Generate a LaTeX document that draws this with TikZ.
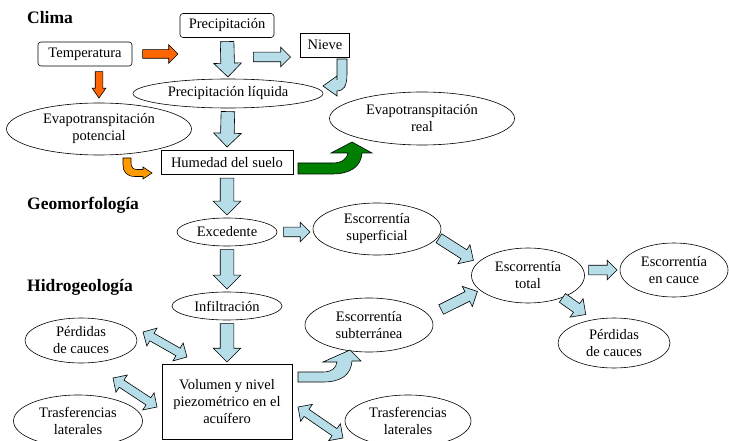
\documentclass[tikz,border=0pt]{standalone}
\usepackage{fontspec}
\setmainfont{Liberation Serif}
\usetikzlibrary{shapes.geometric,shapes.arrows,calc}

\definecolor{azulc}{RGB}{183,222,232}
\definecolor{naranja}{RGB}{255,102,0}
\definecolor{ambar}{RGB}{255,153,0}
\definecolor{verde}{RGB}{0,128,0}

\tikzset{
  caja/.style={draw, line width=0.6pt, inner sep=0pt, align=center,
    font=\fontsize{14.5}{17}\selectfont},
  elipse/.style={caja, ellipse},
  titulo/.style={anchor=base west, inner sep=0pt,
    font=\fontsize{17.5}{20}\selectfont\bfseries},
  bloque/.style={single arrow, draw, line width=0.6pt, inner xsep=0pt,
    minimum width=0pt, single arrow tip angle=90},
  azulV/.style={bloque, fill=azulc, inner ysep=6.5pt, single arrow head extend=7pt},
  azulH/.style={bloque, fill=azulc, inner ysep=4.5pt, single arrow head extend=5pt},
  azulD/.style={bloque, fill=azulc, inner ysep=5pt, single arrow head extend=6pt},
  naranjaH/.style={bloque, fill=naranja, inner ysep=4pt, single arrow head extend=5pt},
  naranjaV/.style={bloque, fill=naranja, inner ysep=3.5pt, single arrow head extend=3pt,
    single arrow tip angle=70},
  doble/.style={double arrow, draw, line width=0.6pt, fill=azulc, inner xsep=0pt,
    inner ysep=4pt, minimum width=0pt, double arrow head extend=6pt},
  curva/.style={draw, line width=0.6pt}
}

% block arrow: style, from, to, gap at start, gap at end
\newcommand{\flecha}[5]{%
  \path let \p1=($(#2)!#4!(#3)$), \p2=($(#3)!#5!(#2)$),
    \n1={atan2(\y2-\y1,\x2-\x1)}, \n2={veclen(\x2-\x1,\y2-\y1)} in
    node[#1, rotate=\n1, minimum height=\n2, anchor=tail] at (\p1) {};}
\newcommand{\doble}[5]{%
  \path let \p1=($(#2)!#4!(#3)$), \p2=($(#3)!#5!(#2)$),
    \n1={atan2(\y2-\y1,\x2-\x1)}, \n2={veclen(\x2-\x1,\y2-\y1)} in
    node[#1, rotate=\n1, minimum height=\n2] at ($(\p1)!0.5!(\p2)$) {};}

\begin{document}
\begin{tikzpicture}[x=1pt, y=-1pt]
\useasboundingbox (0,0) rectangle (729,441);

% titulos
\node[titulo] (clima) at (27,24) {Clima};
\node[titulo] (geo) at (27,210) {Geomorfología};
\node[titulo] (hidro) at (27,291) {Hidrogeología};

% clima
\node[caja, rounded corners=3pt, minimum width=94, minimum height=24] (precip) at (227,25.5) {Precipitación};
\node[caja, rounded corners=3pt, minimum width=94, minimum height=24] (temp) at (85,54) {Temperatura};
\node[caja, minimum width=49, minimum height=24] (nieve) at (325,45) {Nieve};
\node[elipse, minimum width=190, minimum height=29] (liq) at (228,93.5) {Precipitación líquida};
\node[elipse, minimum width=185, minimum height=52] (evapp) at (99,129) {Evapotranspitación\\potencial};
\node[elipse, minimum width=185, minimum height=53] (evapr) at (422,118.5) {Evapotranspitación\\real};
\node[caja, minimum width=132, minimum height=24] (hum) at (227,162.5) {Humedad del suelo};

% geomorfologia
\node[elipse, minimum width=100, minimum height=28] (exc) at (227,232) {Excedente};
\node[elipse, minimum width=128, minimum height=52] (sup) at (377,229) {Escorrentía\\superficial};
\node[elipse, minimum width=113, minimum height=55] (total) at (528,275.5) {Escorrentía\\total};
\node[elipse, minimum width=108, minimum height=54] (cauce) at (674,270) {Escorrentía\\en cauce};
\node[elipse, minimum width=112, minimum height=50] (perd2) at (614,343) {Pérdidas\\de cauces};

% hidrogeologia
\node[elipse, minimum width=110, minimum height=28] (inf) at (227,306) {Infiltración};
\node[elipse, minimum width=128, minimum height=54] (sub) at (369,325) {Escorrentía\\subterránea};
\node[elipse, minimum width=112, minimum height=45] (perd1) at (81,340.5) {Pérdidas\\de cauces};
\node[caja, minimum width=130, minimum height=75] (vol) at (227,401.5) {Volumen y nivel\\piezométrico en el\\acuífero};
\node[elipse, minimum width=129, minimum height=52] (tras1) at (78,421) {Trasferencias\\laterales};
\node[elipse, minimum width=126, minimum height=52] (tras2) at (408,421) {Trasferencias\\laterales};

\coordinate (pn) at (253,57);
\coordinate (d1) at (143,332);
\coordinate (d2) at (187,357);
\coordinate (d3) at (113,378);
\coordinate (d4) at (157,407);
\coordinate (d5) at (298,407);
\coordinate (d6) at (343,438);

% flechas rectas
\flecha{naranjaH}{temp.east}{temp.east -| precip.west}{10pt}{2pt}
\flecha{naranjaV}{evapp.north |- temp.south}{evapp.north}{5pt}{5pt}
\flecha{azulV}{precip.south}{liq.north}{3.5pt}{2pt}
\flecha{azulH}{pn}{nieve.west |- pn}{0pt}{10pt}
\flecha{azulV}{liq.south}{hum.north}{3pt}{3.5pt}
\flecha{azulV}{hum.south}{exc.north}{3pt}{3pt}
\flecha{azulH}{exc.east}{sup.west |- exc.east}{6pt}{3pt}
\flecha{azulV}{exc.south}{inf.north}{3pt}{3pt}
\flecha{azulV}{inf.south}{vol.north}{3pt}{2pt}
\flecha{azulD}{sup.-8}{total.166}{1pt}{5pt}
\flecha{azulD}{sub.9}{total.197}{13pt}{3pt}
\flecha{azulH}{total.east |- cauce.west}{cauce.west}{3.5pt}{3pt}
\flecha{azulD}{total.-33}{perd2.132}{0pt}{9pt}

% flechas dobles
\doble{doble}{d1}{d2}{0pt}{0pt}
\doble{doble}{d3}{d4}{0pt}{0pt}
\doble{doble}{d5}{d6}{0pt}{0pt}

% flechas curvas
\draw[curva, fill=azulc] (337,59) -- (347,59) -- (347,74) .. controls (347,87) and (343,91) .. (337,91)
  -- (337,96) -- (323,86) -- (337,76) -- (337,80) -- cycle;
\draw[curva, fill=ambar] (123,158) -- (131,158) -- (131,163) .. controls (131,167) and (133,169.5) .. (137,169.5)
  -- (143,169.5) -- (143,167) -- (152,173) -- (143,179) -- (143,176.5) -- (135,176.5)
  .. controls (127,176.5) and (123,172) .. (123,165) -- cycle;
\draw[curva, fill=verde] (298,163) -- (332,163) .. controls (342,163) and (347,159) .. (348,153)
  -- (331,153) -- (352,142) -- (372,153) -- (362,153) .. controls (361,167) and (350,174) .. (332,174)
  -- (298,174) -- cycle;
\draw[curva, fill=azulc] (298,372) -- (323,372) .. controls (332,372) and (336,368) .. (337,362)
  -- (323,362) -- (350,350) -- (361,361) -- (352,361) .. controls (351,375) and (341,382) .. (323,382)
  -- (298,382) -- cycle;
\end{tikzpicture}
\end{document}
